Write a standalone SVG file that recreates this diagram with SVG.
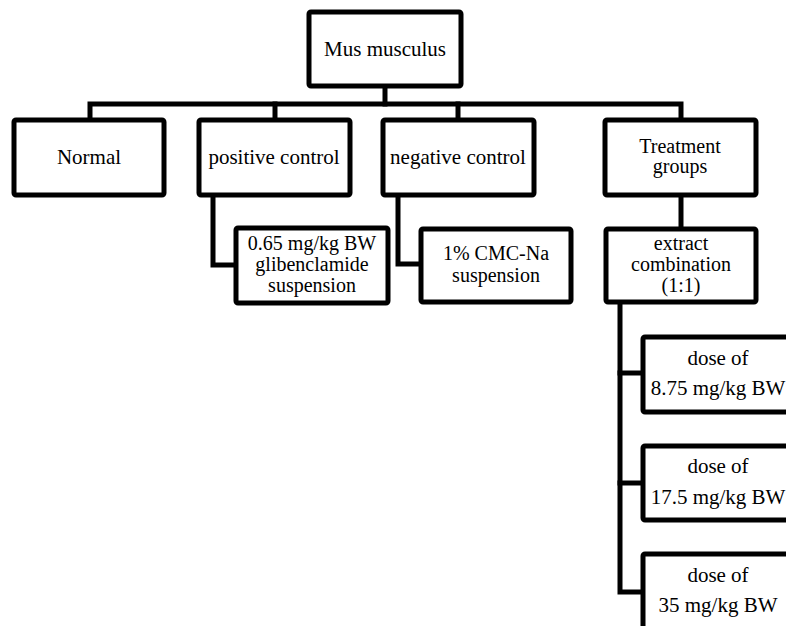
<svg xmlns="http://www.w3.org/2000/svg" width="786" height="626" viewBox="0 0 786 626">
<style>
.box{fill:#fff;stroke:#000;stroke-width:5;}
.ln{fill:none;stroke:#000;stroke-width:5;stroke-linejoin:miter;stroke-linecap:square;}
.t{font-family:'Liberation Serif',serif;font-size:21px;fill:#000;text-anchor:middle;}
.s{font-size:20px;}
</style>
<rect width="786" height="626" fill="#fff"/>
<g id="connectors">
<path class="ln" d="M385,86 V104"/>
<path class="ln" d="M90,120 V104 H681 V120"/>
<path class="ln" d="M275,104 V120"/>
<path class="ln" d="M458,104 V120"/>
<path class="ln" d="M213,195 V265 H236"/>
<path class="ln" d="M398,195 V264 H421"/>
<path class="ln" d="M681,195 V229"/>
<path class="ln" d="M620,302 V592 H643"/>
<path class="ln" d="M620,373 H643"/>
<path class="ln" d="M620,483 H643"/>
</g>
<g id="root"><rect class="box" x="309" y="12" width="152" height="74" rx="2"/><text class="t" font-family="Liberation Serif, serif" x="385" y="56">Mus musculus</text></g>
<g id="normal"><rect class="box" x="14" y="120" width="150" height="75" rx="2"/><text class="t" font-family="Liberation Serif, serif" x="89" y="164">Normal</text></g>
<g id="positive"><rect class="box" x="199" y="120" width="151" height="75" rx="2"/><text class="t" font-family="Liberation Serif, serif" x="274" y="164">positive control</text></g>
<g id="negative"><rect class="box" x="383" y="120" width="151" height="75" rx="2"/><text class="t" font-family="Liberation Serif, serif" x="458" y="164">negative control</text></g>
<g id="treatment"><rect class="box" x="605" y="120" width="151" height="75" rx="2"/><text class="t s" font-family="Liberation Serif, serif" x="680" y="153">Treatment</text><text class="t s" font-family="Liberation Serif, serif" x="680" y="173">groups</text></g>
<g id="glib"><rect class="box" x="236" y="228" width="152" height="75" rx="2"/><text class="t s" font-family="Liberation Serif, serif" x="312" y="250">0.65 mg/kg BW</text><text class="t s" font-family="Liberation Serif, serif" x="312" y="271">glibenclamide</text><text class="t s" font-family="Liberation Serif, serif" x="312" y="292">suspension</text></g>
<g id="cmc"><rect class="box" x="421" y="229" width="150" height="73" rx="2"/><text class="t s" font-family="Liberation Serif, serif" x="496" y="260">1% CMC-Na</text><text class="t s" font-family="Liberation Serif, serif" x="496" y="282">suspension</text></g>
<g id="extract"><rect class="box" x="606" y="229" width="150" height="73" rx="2"/><text class="t s" font-family="Liberation Serif, serif" x="681" y="250">extract</text><text class="t s" font-family="Liberation Serif, serif" x="681" y="271">combination</text><text class="t s" font-family="Liberation Serif, serif" x="681" y="292">(1:1)</text></g>
<g id="dose1"><rect class="box" x="643" y="337" width="150" height="75" rx="2"/><text class="t" font-family="Liberation Serif, serif" x="718" y="365">dose of</text><text class="t" font-family="Liberation Serif, serif" x="718" y="395">8.75 mg/kg BW</text></g>
<g id="dose2"><rect class="box" x="643" y="446" width="150" height="74" rx="2"/><text class="t" font-family="Liberation Serif, serif" x="718" y="473">dose of</text><text class="t" font-family="Liberation Serif, serif" x="718" y="504">17.5 mg/kg BW</text></g>
<g id="dose3"><rect class="box" x="643" y="554" width="150" height="80" rx="2"/><text class="t" font-family="Liberation Serif, serif" x="718" y="582">dose of</text><text class="t" font-family="Liberation Serif, serif" x="718" y="612">35 mg/kg BW</text></g>
</svg>
